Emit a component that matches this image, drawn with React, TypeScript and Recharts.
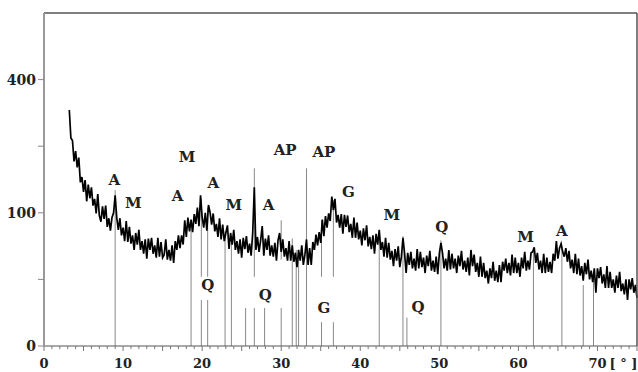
import { ComposedChart, Line, Scatter, XAxis, YAxis, ReferenceLine } from 'recharts'

// measured pattern, 2θ from 3.2° to 75.0° in 0.2° steps
const START = 3.2
const STEP = 0.2
const counts = [
  314, 244, 238, 192, 214, 180, 200, 151, 161, 134,
  155, 118, 147, 123, 142, 111, 122, 99, 130, 96,
  87, 110, 91, 111, 80, 92, 75, 93, 100, 128,
  93, 76, 92, 69, 79, 62, 88, 61, 80, 59,
  69, 52, 72, 58, 76, 52, 62, 48, 64, 43,
  65, 52, 66, 48, 57, 44, 66, 45, 61, 44,
  47, 64, 42, 52, 41, 57, 39, 62, 52, 69,
  54, 69, 58, 89, 67, 93, 74, 90, 73, 98,
  84, 108, 81, 128, 94, 79, 100, 75, 112, 101,
  83, 99, 74, 84, 67, 92, 64, 83, 62, 72,
  82, 53, 72, 58, 76, 52, 62, 48, 64, 44,
  66, 53, 68, 49, 59, 46, 73, 142, 52, 67,
  50, 63, 81, 46, 65, 52, 69, 46, 57, 45,
  60, 41, 63, 72, 50, 64, 45, 54, 41, 62,
  41, 57, 40, 49, 35, 52, 41, 57, 37, 47,
  64, 37, 54, 37, 61, 52, 70, 57, 73, 60,
  90, 68, 95, 79, 99, 88, 126, 104, 122, 86,
  97, 79, 98, 71, 97, 80, 96, 73, 84, 66,
  93, 66, 86, 64, 75, 57, 78, 63, 82, 56,
  67, 53, 69, 48, 71, 58, 76, 52, 61, 45,
  66, 44, 60, 42, 51, 36, 53, 41, 56, 35,
  45, 66, 49, 30, 49, 37, 50, 34, 43, 32,
  53, 34, 50, 35, 44, 30, 46, 36, 51, 32,
  41, 31, 45, 29, 48, 60, 49, 34, 43, 32,
  52, 33, 48, 34, 43, 30, 46, 36, 51, 33,
  41, 31, 44, 28, 52, 36, 47, 31, 39, 27,
  45, 27, 39, 26, 32, 22, 34, 26, 40, 24,
  32, 23, 37, 23, 40, 32, 43, 30, 39, 28,
  47, 30, 44, 30, 39, 27, 44, 34, 50, 32,
  41, 33, 49, 50, 55, 39, 49, 33, 41, 30,
  48, 30, 44, 31, 40, 30, 48, 41, 62, 43,
  54, 59, 50, 45, 54, 40, 51, 34, 42, 30,
  48, 29, 43, 28, 36, 24, 39, 29, 42, 25,
  32, 23, 34, 16, 34, 26, 35, 22, 29, 19,
  36, 19, 31, 19, 25, 16, 28, 19, 31, 17,
  22, 15, 25, 12, 25, 18, 26, 16, 21, 13,
]

// reference stick lines: position, from, to (counts)
const stickPos = [9.0, 18.6, 19.9, 19.9, 20.7, 20.7, 22.9, 23.7, 25.5, 26.6, 26.6, 27.9, 30.0, 30.0,
  31.4, 31.9, 32.2, 33.2, 35.1, 35.1, 36.6, 36.6, 42.4, 45.4, 45.9, 50.2, 61.9, 65.5, 68.2, 69.5]
const stickLow = [0, 0, 0, 27, 0, 27, 0, 0, 0, 0, 27, 0, 0, 42,
  0, 0, 0, 0, 0, 27, 0, 27, 0, 0, 0, 0, 0, 0, 0, 0]
const stickHigh = [137, 82, 11.9, 122, 11.9, 108, 74, 60, 8.1, 8.1, 178, 8.1, 8.1, 89,
  65, 52, 44, 178, 3.2, 89, 3.2, 120, 72, 68, 4.5, 63, 50, 56, 21, 29]

// phase labels
const labelText = ['A', 'M', 'A', 'M', 'A', 'M', 'A', 'AP', 'AP', 'G', 'M', 'Q', 'M', 'A', 'Q', 'Q', 'G', 'Q']
const labelPos = [8.9, 11.3, 16.9, 18.1, 21.4, 24.0, 28.4, 30.5, 35.4, 38.5, 44.0, 50.3, 60.9, 65.5, 20.7, 28.0, 35.4, 47.3]
const labelCount = [155, 115, 126, 201, 149, 112, 112, 216, 212, 134, 96, 80, 67, 74, 21, 14.6, 8.1, 8.6]

const xTicks = Array.from({ length: 76 }, (_, i) => i)
const yTicks = [0, 25, 100, 225, 400]

const pattern = counts.map((c, i) => ({ x: +(START + i * STEP).toFixed(1), y: c }))
const labels = labelText.map((t, i) => ({ x: labelPos[i], y: labelCount[i], t }))

const FONT = '"DejaVu Serif", serif'

function XTick(props: any) {
  const { x, y, payload } = props
  const v = payload.value
  const len = v % 5 === 0 ? 5 : 3
  return (
    <g>
      <line x1={x} x2={x} y1={y} y2={y + len} stroke="#777" strokeWidth={1} />
      {v % 10 === 0 && (
        <text x={x} y={y + 22} textAnchor="middle" fontFamily={FONT} fontWeight="bold" fontSize={13} fill="#222">
          {v}
        </text>
      )}
      {v === 70 && (
        <text x={x + 12} y={y + 22} textAnchor="start" fontFamily={FONT} fontWeight="bold" fontSize={13} fill="#222">
          [ ° ]
        </text>
      )}
    </g>
  )
}

function PhaseLabel(props: any) {
  const { cx, cy, payload } = props
  return (
    <text x={cx} y={cy} textAnchor="middle" dominantBaseline="central"
      fontFamily={FONT} fontWeight="bold" fontSize={15} fill="#222">
      {payload.t}
    </text>
  )
}

export default function App() {
  return (
    <div style={{ position: 'absolute', left: 0, top: 0, background: '#fff' }}>
      <ComposedChart width={638} height={372} data={pattern}
        margin={{ top: 12, right: 0, left: 0, bottom: 0 }}>
        <XAxis dataKey="x" type="number" domain={[0, 75]} ticks={xTicks} interval={0}
          tick={<XTick />} tickSize={0} tickMargin={0} tickLine={false}
          axisLine={{ stroke: '#555', strokeWidth: 1.2 }} height={26} />
        <XAxis xAxisId="top" orientation="top" type="number" domain={[0, 75]} tick={false}
          tickLine={false} axisLine={{ stroke: '#555', strokeWidth: 1.5 }} height={1} />
        <YAxis type="number" scale="sqrt" domain={[0, 625]} ticks={yTicks} interval={0}
          tickFormatter={(v: number) => (v === 0 || v === 100 || v === 400 ? String(v) : '')}
          tick={{ fontFamily: FONT, fontWeight: 'bold', fontSize: 14, fill: '#222' }}
          tickLine={{ stroke: '#888' }} tickSize={6} tickMargin={2}
          axisLine={{ stroke: '#999', strokeWidth: 2 }} width={44} />
        <YAxis yAxisId="right" orientation="right" tick={false} tickLine={false}
          axisLine={{ stroke: '#555', strokeWidth: 1.5 }} width={1} />
        {stickPos.map((p, i) => (
          <ReferenceLine key={i} segment={[{ x: p, y: stickLow[i] }, { x: p, y: stickHigh[i] }]}
            stroke="#888" strokeWidth={1} />
        ))}
        <Line dataKey="y" type="linear" dot={false} stroke="#000" strokeWidth={1.7}
          isAnimationActive={false} />
        <Scatter data={labels} dataKey="y" shape={<PhaseLabel />} isAnimationActive={false} />
      </ComposedChart>
    </div>
  )
}
